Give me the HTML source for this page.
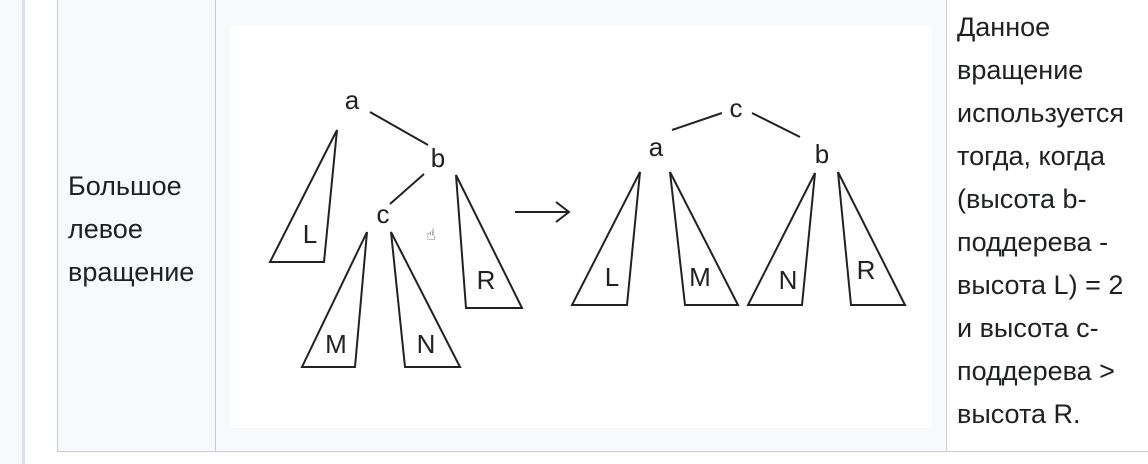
<!DOCTYPE html>
<html><head><meta charset="utf-8"><style>
body{margin:0;width:1148px;height:464px;overflow:hidden;background:#fff;font-family:"Liberation Sans","DejaVu Sans",sans-serif;color:#202122;position:relative}
.abs{position:absolute}
.t{font-size:27px;line-height:43px}
</style></head><body>
<div class="abs" style="left:0;top:0;width:22px;height:464px;background:#f8f9fa"></div>
<div class="abs" style="left:22px;top:0;width:3px;height:464px;background:#d6e2ef"></div>
<div class="abs" style="left:57px;top:-1px;width:1100px;height:453px;border:1px solid #c8ccd1;box-sizing:border-box">
</div>
<div class="abs" style="left:58px;top:0;width:157px;height:451px;background:#f8f9fa;border-right:1px solid #c8ccd1"></div>
<div class="abs t" style="left:68px;top:165px">Большое<br>левое<br>вращение</div>
<div class="abs" style="left:216px;top:0;width:730px;height:451px;background:#f8f9fa;border-right:1px solid #c8ccd1"></div>
<div class="abs" style="left:947px;top:0;width:201px;height:451px;background:#fff"></div>
<div class="abs t" style="left:957px;top:6px;white-space:nowrap">Данное<br>вращение<br>используется<br>тогда, когда<br>(высота b-<br>поддерева -<br>высота L) = 2<br>и высота c-<br>поддерева &gt;<br>высота R.</div>
<svg class="abs" style="left:0;top:0" width="1148" height="464">
<rect x="230" y="25" width="702" height="403" fill="#fff"/>
<g fill="none" stroke="#222" stroke-width="2">
<line x1="370" y1="112" x2="428" y2="145"/>
<line x1="424" y1="174" x2="390" y2="204"/>
<polygon points="337,130 324,262 270,262"/>
<polygon points="456,175 466,308 522,308"/>
<polygon points="367,232 355,367 302,367"/>
<polygon points="391,232 405,367 460,367"/>
<line x1="515" y1="212" x2="569" y2="212"/>
<polyline points="556,202 569,212 556,222"/>
<line x1="672" y1="130" x2="722" y2="113"/>
<line x1="752" y1="113" x2="800" y2="137"/>
<polygon points="640,172 627,305 572,305"/>
<polygon points="670,172 685,305 738,305"/>
<polygon points="815,173 802,305 748,305"/>
<polygon points="838,172 851,305 905,305"/>
</g>
<g font-family="Liberation Sans, sans-serif" font-size="26" fill="#222" text-anchor="middle">
<text x="352" y="109">a</text><text x="438" y="167">b</text><text x="383" y="223">c</text>
<text x="310" y="243">L</text><text x="486" y="289">R</text><text x="336" y="353">M</text><text x="426" y="353">N</text>
<text x="736" y="117">c</text><text x="656" y="156">a</text><text x="822" y="163">b</text>
<text x="612" y="286">L</text><text x="700" y="286">M</text><text x="788" y="289">N</text><text x="866" y="279">R</text>
</g>
<text x="426" y="240" font-size="16" fill="#444">☝</text>
</svg>
</body></html>
